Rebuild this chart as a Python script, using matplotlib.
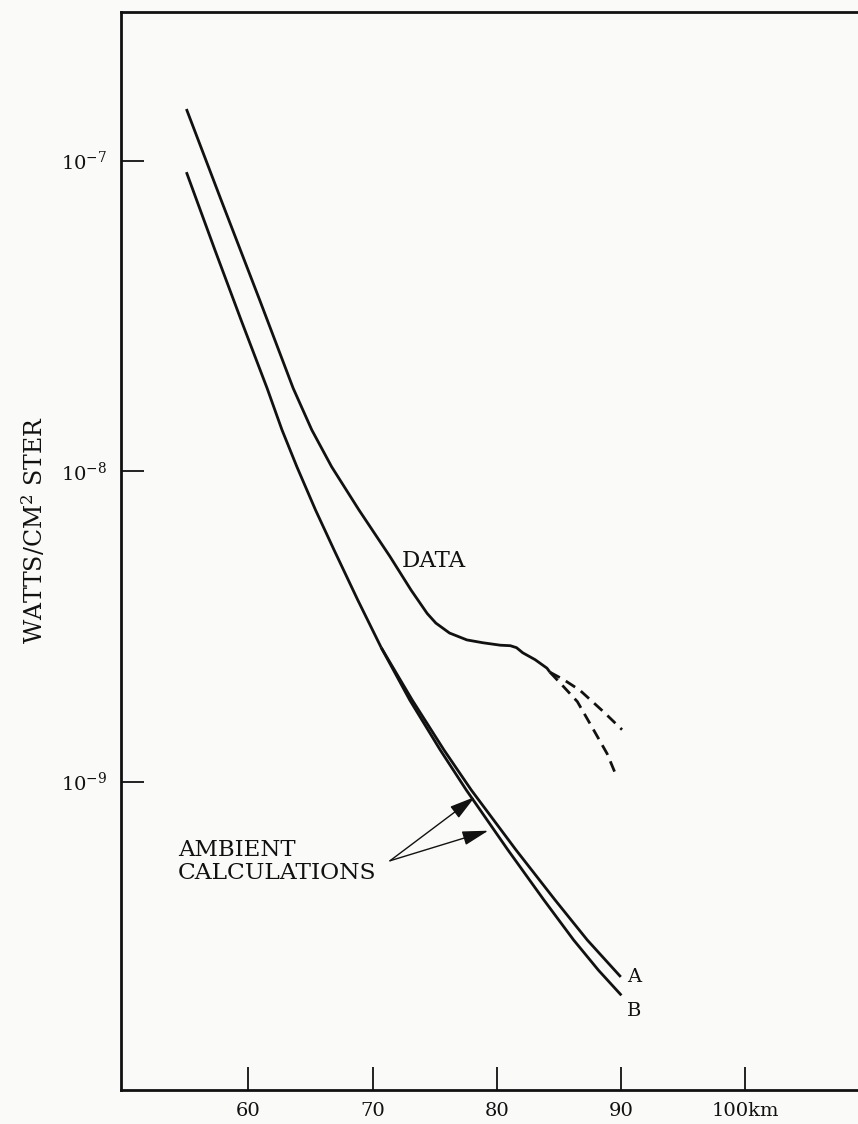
import numpy as np
import matplotlib
matplotlib.use("Agg")
from matplotlib import pyplot as plt
from matplotlib.ticker import NullLocator, FixedLocator, FixedFormatter

# altitude (km) / radiance (watts/cm^2 ster)
data_km = [55.0, 57.8, 60.9, 63.6, 65.1, 66.7, 68.9, 71.4, 73.1, 74.4, 75.1, 76.2,
           77.6, 78.9, 80.3, 81.1, 81.6, 82.1, 83.1, 84.05, 84.3]
data_w = [1.466e-7, 7.46e-8, 3.56e-8, 1.85e-8, 1.358e-8, 1.033e-8, 7.50e-9, 5.31e-9,
          4.14e-9, 3.48e-9, 3.24e-9, 3.01e-9, 2.86e-9, 2.80e-9, 2.75e-9, 2.74e-9,
          2.70e-9, 2.60e-9, 2.47e-9, 2.32e-9, 2.25e-9]

dash_hi_km = [84.3, 85.4, 86.7, 88.6, 90.1]
dash_hi_w = [2.25e-9, 2.13e-9, 1.97e-9, 1.68e-9, 1.47e-9]
dash_lo_km = [84.3, 85.4, 86.5, 87.8, 88.9, 89.7]
dash_lo_w = [2.25e-9, 2.02e-9, 1.81e-9, 1.47e-9, 1.23e-9, 1.03e-9]

# ambient calculations: common part, then the two branches A and B
amb_km = [55.0, 57.3, 59.4, 61.5, 62.7, 63.9, 65.4, 66.9, 68.8, 70.7]
amb_w = [9.18e-8, 5.15e-8, 3.07e-8, 1.85e-8, 1.358e-8, 1.033e-8, 7.50e-9, 5.57e-9,
         3.85e-9, 2.70e-9]
a_km = [70.7, 73.2, 75.75, 77.95, 81.55, 84.7, 87.3, 90.0]
a_w = [2.70e-9, 1.83e-9, 1.265e-9, 9.40e-10, 6.03e-10, 4.16e-10, 3.09e-10, 2.35e-10]
b_km = [70.7, 73.0, 75.45, 77.55, 80.9, 83.8, 86.2, 88.2, 90.05]
b_w = [2.70e-9, 1.83e-9, 1.265e-9, 9.40e-10, 6.03e-10, 4.16e-10, 3.09e-10, 2.47e-10,
       2.05e-10]

xticks = [60, 70, 80, 90, 100]
xlabels = ["60", "70", "80", "90", "100km"]
yticks = [1e-9, 1e-8, 1e-7]
ylabels = [r"$10^{-9}$", r"$10^{-8}$", r"$10^{-7}$"]

plt.rcParams["font.family"] = ["DejaVu Serif"]
plt.rcParams["mathtext.fontset"] = "dejavuserif"

W, H = 858, 1124
bg = "#fafaf9"
fig = plt.figure(figsize=(W / 100, H / 100), dpi=100, facecolor=bg)
ax = fig.add_axes([121 / W, 1 - 1090 / H, (869 - 121) / W, (1090 - 12) / H])
ax.set_facecolor(bg)
ax.set_yscale("log")
ax.set_xlim(49.73, 110)
ax.set_ylim(1.016e-10, 3.01e-7)

lw = 2.0
col = "#111111"
solid = dict(color=col, lw=lw, solid_joinstyle="round", solid_capstyle="butt")
ax.plot(data_km, data_w, **solid)
ax.plot(amb_km, amb_w, **solid)
ax.plot(a_km, a_w, **solid)
ax.plot(b_km, b_w, **solid)
ax.plot(dash_hi_km, dash_hi_w, color=col, lw=lw, linestyle=(0, (4, 2.5)))
ax.plot(dash_lo_km, dash_lo_w, color=col, lw=lw, linestyle=(0, (4, 2.5)))

for s in ax.spines.values():
    s.set_linewidth(2.0)
    s.set_color(col)

ax.xaxis.set_major_locator(FixedLocator(xticks))
ax.xaxis.set_major_formatter(FixedFormatter(xlabels))
ax.yaxis.set_major_locator(FixedLocator(yticks))
ax.yaxis.set_major_formatter(FixedFormatter(ylabels))
ax.xaxis.set_minor_locator(NullLocator())
ax.yaxis.set_minor_locator(NullLocator())
ax.tick_params(axis="both", direction="in", length=16.5, width=1.3, colors=col,
               labelsize=14)
ax.tick_params(axis="x", pad=9)
ax.tick_params(axis="y", pad=10)

# labels
ax.text(72.35, 5.14e-9, "DATA", fontsize=16.5, color=col, va="center", ha="left")
ax.text(90.5, 2.35e-10, "A", fontsize=14, color=col, va="center", ha="left")
ax.text(90.5, 1.83e-10, "B", fontsize=14, color=col, va="center", ha="left")

fig.text(178 / W, 1 - 850 / H, "AMBIENT", fontsize=16.5, color=col, va="center", ha="left")
fig.text(178 / W, 1 - 873 / H, "CALCULATIONS", fontsize=16.8, color=col, va="center", ha="left")

arrow = dict(arrowstyle="-|>,head_length=0.8,head_width=0.22", color=col, lw=1.0,
             shrinkA=0, shrinkB=0, mutation_scale=20)
ax.annotate("", xy=(78.25, 8.93e-10), xytext=(71.4, 5.56e-10), arrowprops=arrow)
ax.annotate("", xy=(79.32, 6.95e-10), xytext=(71.4, 5.56e-10), arrowprops=arrow)

fig.text(34 / W, 1 - 530 / H, r"WATTS/CM$^2$ STER", fontsize=17, color=col,
         rotation=90, va="center", ha="center")

fig.savefig("out.png", dpi=100, facecolor=bg)
